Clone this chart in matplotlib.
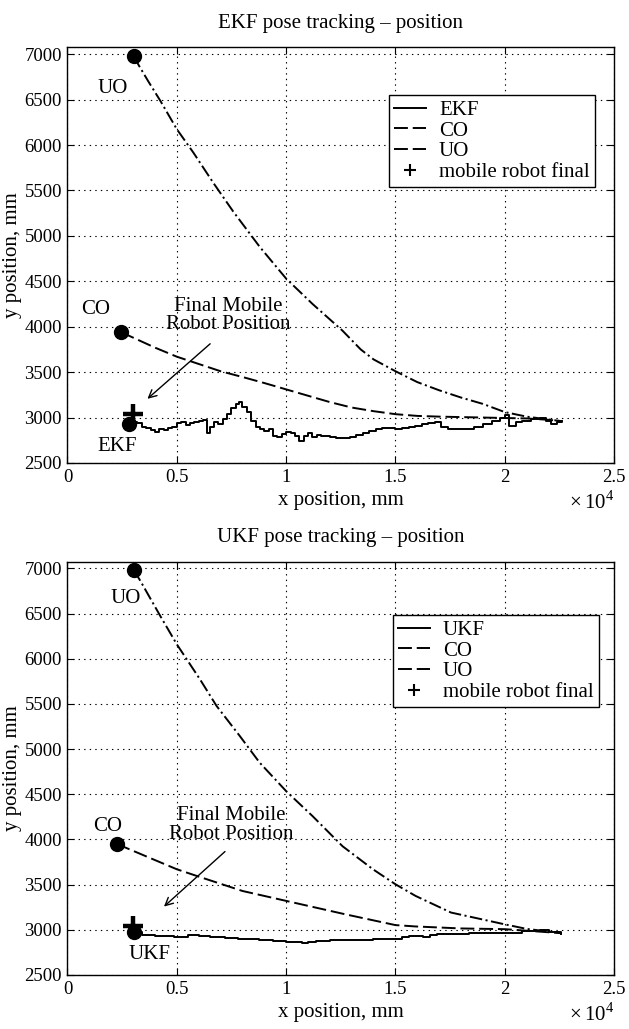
import matplotlib
matplotlib.use("Agg")
import matplotlib.pyplot as plt
from matplotlib.lines import Line2D
from matplotlib.ticker import FuncFormatter

plt.rcParams['font.family'] = ['Liberation Serif', 'DejaVu Serif']
plt.rcParams['mathtext.fontset'] = 'custom'
plt.rcParams['mathtext.rm'] = 'Liberation Serif'
plt.rcParams['lines.scale_dashes'] = False

# ---------------- data (mm) ----------------
ekf_x = [2800, 3000, 3200, 3400, 3600, 3800, 4000, 4200, 4400, 4600, 4800, 5000, 5200, 5400,
         5600, 5800, 6000, 6200, 6400, 6500, 6700, 6900, 7100, 7300, 7500, 7700, 7850, 8000,
         8200, 8400, 8600, 8800, 9000, 9200, 9400, 9600, 9800, 10000, 10200, 10400, 10600,
         10800, 11000, 11200, 11400, 11600, 11800, 12000, 12300, 12600, 12900, 13200, 13500,
         13800, 14100, 14400, 14700, 15000, 15300, 15600, 15900, 16200, 16500, 16800, 17100,
         17400, 17800, 18200, 18600, 19000, 19400, 19800, 20000, 20200, 20500, 20800, 21200,
         21600, 21900, 22100, 22400, 22600]
ekf_y = [2930, 2950, 2945, 2900, 2880, 2860, 2845, 2870, 2860, 2880, 2900, 2940, 2950, 2920,
         2935, 2950, 2960, 2975, 2830, 2900, 2950, 2930, 2980, 3040, 3110, 3150, 3170, 3120,
         3060, 2960, 2900, 2870, 2850, 2870, 2800, 2790, 2820, 2840, 2830, 2800, 2740,
         2800, 2830, 2790, 2810, 2800, 2800, 2790, 2780, 2770, 2790, 2810, 2830,
         2850, 2870, 2890, 2880, 2870, 2890, 2900, 2910, 2930, 2945, 2955, 2900,
         2870, 2870, 2870, 2900, 2930, 2960, 3000, 3030, 2910, 2950, 2965, 2985,
         3000, 2960, 2930, 2950, 2960]

co1_x = [2450, 3000, 4000, 5000, 6000, 7000, 8100, 9000, 10000, 11000, 12000, 13000, 14000,
         15000, 16000, 17000, 18000, 19000, 20000, 21000, 22000, 22600]
co1_y = [3940, 3880, 3770, 3670, 3590, 3510, 3440, 3380, 3310, 3240, 3170, 3110, 3070,
         3037, 3018, 3010, 3005, 3000, 2995, 2990, 2975, 2960]

uo1_x = [3030, 3260, 3700, 4240, 5000, 5760, 6670, 7575, 8790, 10000, 11210, 12580, 13410,
         14000, 15000, 16000, 17000, 18000, 19000, 20000, 21000, 22600]
uo1_y = [6978, 6878, 6700, 6490, 6175, 5916, 5584, 5270, 4880, 4530, 4250, 3956, 3750,
         3640, 3510, 3390, 3300, 3220, 3150, 3060, 3010, 2960]

ukf_x = [3020, 3425, 4000, 4885, 5530, 6000, 6510, 7200, 7810, 8780, 9400, 10000, 10730,
         11000, 11380, 12000, 12680, 13970, 14950, 15300, 15600, 16250, 16600, 16890, 18350,
         19970, 20790, 21600, 22000, 22580]
ukf_y = [2975, 2945, 2935, 2923, 2941, 2930, 2915, 2905, 2897, 2890, 2880, 2868, 2853,
         2870, 2879, 2885, 2890, 2897, 2897, 2915, 2934, 2915, 2940, 2952, 2960,
         2970, 2989, 2996, 2980, 2952]

co2_x = [2250, 3940, 5000, 6000, 8000, 10000, 12680, 15000, 15920, 18000, 20000, 22580]
co2_y = [3951, 3778, 3670, 3589, 3430, 3320, 3173, 3052, 3037, 3015, 3007, 2963]

uo2_x = [3030, 3330, 4240, 5000, 6060, 6820, 7880, 8790, 10000, 11210, 12580, 13970, 15000,
         15920, 17540, 19970, 21000, 22400, 22600]
uo2_y = [6982, 6863, 6475, 6160, 5772, 5477, 5145, 4850, 4535, 4258, 3925, 3670, 3504,
         3375, 3191, 3062, 3010, 2970, 2960]

final1 = (2980, 3037)
final2 = (3000, 3040)

x_ticks = [0, 5000, 10000, 15000, 20000, 25000]
y_ticks = [2500, 3000, 3500, 4000, 4500, 5000, 5500, 6000, 6500, 7000]

panels = [
    dict(title='EKF pose tracking \u2013 position', fname='EKF', fx=ekf_x, fy=ekf_y,
         cox=co1_x, coy=co1_y, uox=uo1_x, uoy=uo1_y, final=final1,
         rect=[0.1073, 0.5501, 0.869, 0.4038],
         uo_lbl=(2045, 6619), co_lbl=(1290, 4190), f_lbl=(2290, 2686),
         txt=(7353, 4124), arr_s=(6525, 3812), arr_e=(3656, 3206),
         leg=(0.588, 0.885)),
    dict(title='UKF pose tracking \u2013 position', fname='UKF', fx=ukf_x, fy=ukf_y,
         cox=co2_x, coy=co2_y, uox=uo2_x, uoy=uo2_y, final=final2,
         rect=[0.1073, 0.0525, 0.869, 0.4017],
         uo_lbl=(2650, 6667), co_lbl=(1820, 4140), f_lbl=(3750, 2731),
         txt=(7490, 4160), arr_s=(7203, 3866), arr_e=(4412, 3257),
         leg=(0.595, 0.870)),
]

fig = plt.figure(figsize=(6.29, 10.29), dpi=100)
FS = 15

for p in panels:
    ax = fig.add_axes(p['rect'])
    ax.set_xlim(0, 25000)
    ax.set_ylim(2500, 7075)
    ax.set_xticks(x_ticks)
    ax.set_yticks(y_ticks)
    ax.xaxis.set_major_formatter(FuncFormatter(lambda v, pos: '%g' % (v / 1e4)))
    ax.tick_params(direction='in', top=True, right=True, length=5, width=0.8,
                   labelsize=13.5, pad=4, colors='black')
    ax.grid(True, color='black', linestyle=(0, (1, 3)), linewidth=0.8)
    for s in ax.spines.values():
        s.set_linewidth(1.0)
        s.set_color('black')

    ax.plot(p['fx'], p['fy'], color='black', lw=1.4, drawstyle='steps-post', label=p['fname'])
    ax.plot(p['cox'], p['coy'], color='black', lw=1.4, dashes=(10, 3.5), label='CO')
    ax.plot(p['uox'], p['uoy'], color='black', lw=1.4, dashes=(9, 2.5, 1.5, 2.5), label='UO')
    ax.plot([p['final'][0]], [p['final'][1]], linestyle='none', marker='+', ms=14, mew=3.2,
            color='black')
    # start points
    for xs, ys in ((p['fx'], p['fy']), (p['cox'], p['coy']), (p['uox'], p['uoy'])):
        ax.plot([xs[0]], [ys[0]], 'o', color='black', ms=10)

    ax.text(*p['uo_lbl'], 'UO', fontsize=FS, ha='center', va='center')
    ax.text(*p['co_lbl'], 'CO', fontsize=FS, ha='center', va='center')
    ax.text(*p['f_lbl'], p['fname'], fontsize=FS, ha='center', va='center')
    ax.text(*p['txt'], 'Final Mobile\nRobot Position', fontsize=FS, ha='center', va='center',
            linespacing=0.95)
    ax.annotate('', xy=p['arr_e'], xytext=p['arr_s'],
                arrowprops=dict(arrowstyle='->', color='black', lw=1.0,
                                mutation_scale=14, shrinkA=0, shrinkB=0))

    handles = [Line2D([], [], color='black', lw=1.4),
               Line2D([], [], color='black', lw=1.4, dashes=(10, 3.5)),
               Line2D([], [], color='black', lw=1.4, dashes=(10, 3.5)),
               Line2D([], [], color='black', linestyle='none', marker='+', ms=9, mew=1.5)]
    leg = ax.legend(handles, [p['fname'], 'CO', 'UO', 'mobile robot final'],
                    loc='upper left', bbox_to_anchor=p['leg'], fontsize=FS,
                    frameon=True, fancybox=False, framealpha=1, edgecolor='black',
                    handlelength=1.55, handletextpad=0.6, borderpad=0.25,
                    labelspacing=0.05, borderaxespad=0)
    leg.get_frame().set_linewidth(1.0)

    ax.set_title(p['title'], fontsize=FS, pad=14)
    ax.set_xlabel('x position, mm', fontsize=FS, labelpad=4)
    ax.set_ylabel('y position, mm', fontsize=FS, labelpad=2)
    ax.text(1.0, -0.095, r'$\times\,10^{4}$', transform=ax.transAxes, fontsize=FS,
            ha='right', va='center')

fig.savefig('out.png', dpi=100)
